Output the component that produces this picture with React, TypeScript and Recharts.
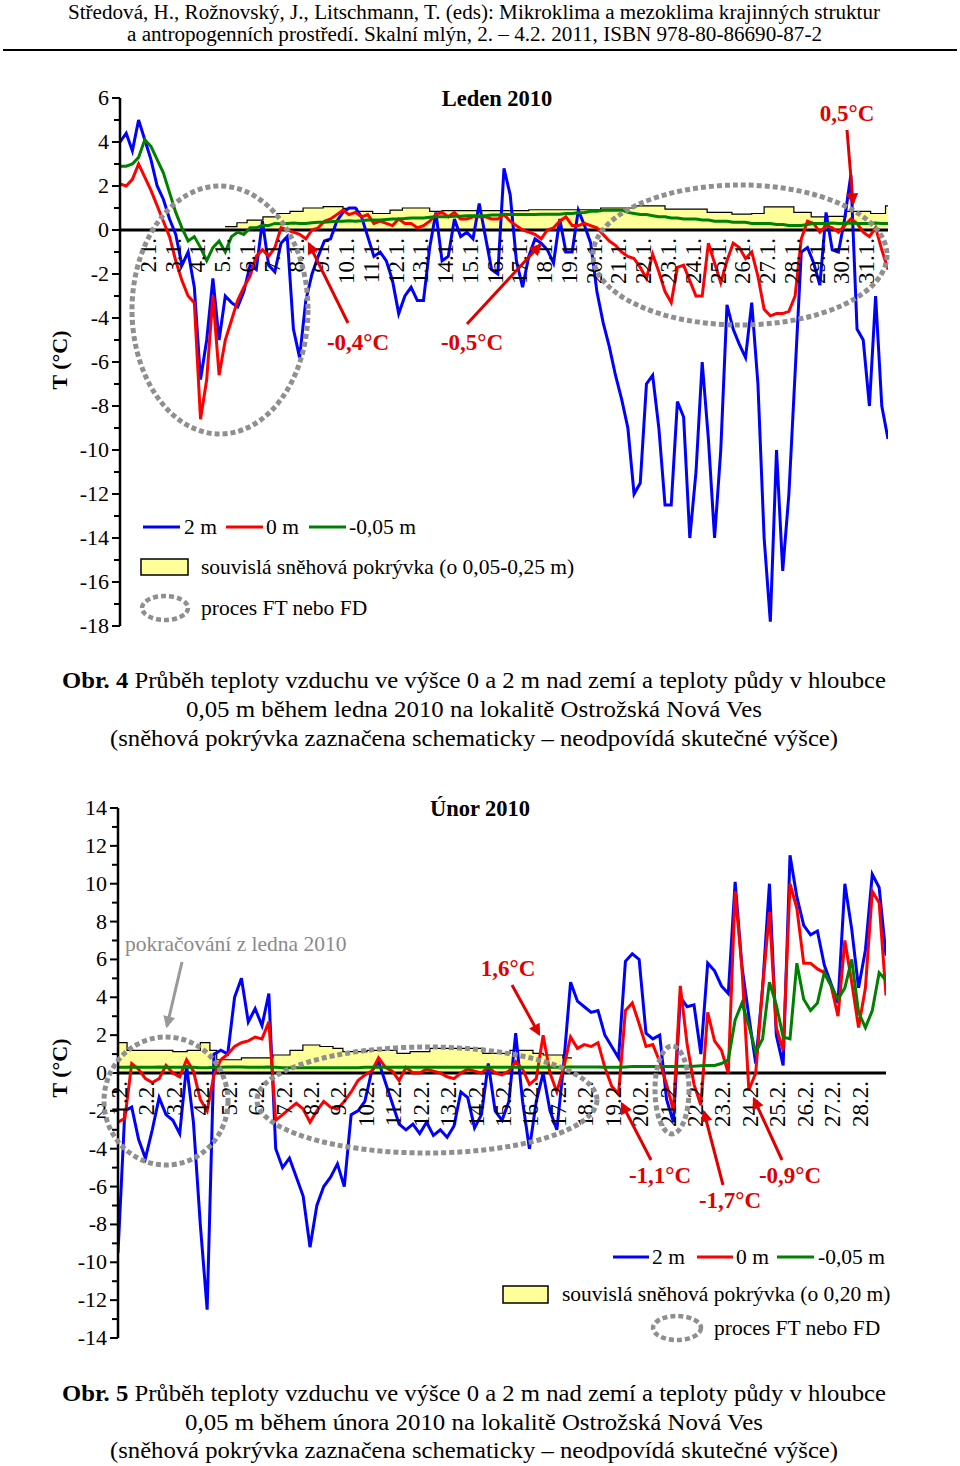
import React from "react";
import { ComposedChart, Line, Area, XAxis, YAxis, ReferenceLine } from "recharts";

const SERIF = '"Liberation Serif", "Times New Roman", serif';
const BLUE = "#0000ff";
const RED = "#ff0000";
const GREEN = "#008000";
const RED_TXT = "#e00000";
const GREY = "#8f8f8f";

// leden 2010 – hodnoty po 6 h od 1.1. 0:00 (°C)
const janBlue = [
  4.0, 4.4, 3.6, 5.0, 4.1, 3.2, 2.0, 1.4, 0.5, -0.2, -1.6, -1.0, -2.6, -6.8, -5.0, -2.2,
  -5.0, -3.0, -3.3, -3.5, -2.8, -1.6, -1.8, 0.4, -1.6, -1.9, -0.6, -0.3, -4.5, -5.8, -3.2, -2.0,
  -1.2, -0.5, -0.4, 0.4, 0.8, 1.0, 1.0, 0.6, -0.3, -1.2, -1.0, -1.4, -2.3, -3.8, -3.0, -2.6,
  -3.2, -3.2, -0.8, 0.8, -1.4, -1.2, 0.5, -0.3, -0.1, -0.4, 1.2, -0.3, -1.8, -2.0, 2.8, 1.6,
  -1.4, -2.6, -1.2, -0.4, -0.6, -0.9, -1.5, 0.5, -1.0, -1.0, 0.9, 0.2, -0.6, -2.8, -4.2, -5.3,
  -6.6, -7.7, -9.0, -12.0, -11.5, -7.0, -6.6, -9.0, -12.5, -12.5, -7.8, -8.5, -14.0, -11.0, -6.0, -9.5,
  -14.0, -10.0, -3.4, -4.5, -5.2, -5.8, -3.3, -7.0, -14.0, -17.8, -10.0, -15.5, -12.0, -6.5, -1.0, -0.8,
  -1.5, -2.5, 0.8, -0.9, -1.0, 0.5, 2.5, -4.5, -5.0, -8.0, -3.0, -8.0, -9.5,
];
const janRed = [
  2.1, 2.0, 2.3, 3.0, 2.4, 1.8, 1.1, 0.4, -0.3, -1.4, -2.3, -3.0, -3.3, -8.6, -6.8, -3.0,
  -6.6, -5.0, -4.1, -3.2, -2.6, -2.1, -1.2, -0.9, -1.2, -0.8, 0.1, 0.0, -0.1, -0.2, -0.4, 0.0,
  0.1, 0.4, 0.5, 0.7, 0.9, 0.7, 0.8, 0.6, 0.7, 0.3, 0.4, 0.3, 0.2, 0.5, 0.3, 0.3,
  0.1, 0.2, 0.4, 0.7, 0.8, 0.6, 0.8, 0.5, 0.5, 0.6, 0.6, 0.6, 0.5, 0.5, 0.7, 0.4,
  0.2, 0.0, -0.1, -0.2, -0.4, 0.0, 0.1, 0.4, 0.6, 0.2, 0.2, 0.3, 0.2, 0.1, -0.2, -0.5,
  -0.7, -1.0, -1.2, -1.3, -1.7, -2.2, -1.1, -1.9, -2.8, -3.3, -1.7, -1.6, -2.3, -3.0, -3.0, -0.6,
  -1.5, -2.4, -1.4, -0.6, -0.8, -1.3, -1.0, -2.1, -3.6, -3.9, -3.8, -3.8, -3.7, -3.0, -0.4, 0.4,
  0.3, -0.1, 0.2, 0.1, -0.1, 0.2, 0.5, 0.3, -0.1, -0.3, 0.1, -0.9, -1.8,
];
const janGreen = [
  2.9, 2.9, 3.0, 3.3, 4.1, 3.8, 3.2, 2.6, 1.7, 0.8, 0.1, -0.5, -0.3, -0.8, -1.4, -0.8,
  -0.5, -1.0, -0.3, -0.1, -0.2, 0.1, 0.1, 0.2, 0.2, 0.3, 0.28, 0.3, 0.32, 0.3, 0.3, 0.33,
  0.35, 0.35, 0.38, 0.4, 0.4, 0.42, 0.4, 0.42, 0.45, 0.45, 0.45, 0.48, 0.5, 0.5, 0.52, 0.55,
  0.55, 0.55, 0.58, 0.6, 0.6, 0.6, 0.62, 0.62, 0.65, 0.65, 0.65, 0.65, 0.68, 0.68, 0.7, 0.7,
  0.7, 0.7, 0.7, 0.7, 0.72, 0.72, 0.72, 0.72, 0.75, 0.75, 0.78, 0.8, 0.85, 0.85, 0.9, 0.9,
  0.9, 0.9, 0.8, 0.75, 0.7, 0.7, 0.65, 0.6, 0.6, 0.55, 0.55, 0.5, 0.5, 0.5, 0.45, 0.45,
  0.4, 0.4, 0.4, 0.35, 0.35, 0.35, 0.3, 0.3, 0.3, 0.3, 0.25, 0.25, 0.2, 0.2, 0.2, 0.25,
  0.3, 0.3, 0.3, 0.32, 0.3, 0.3, 0.32, 0.3, 0.3, 0.3, 0.32, 0.3, 0.3,
];
// sněhová pokrývka (schematicky, den -> výška v jednotkách osy)
const janSnowT = [
  5.24, 5.72, 6.13, 6.77, 7.34, 7.86, 8.39, 9.2, 10.0, 10.57, 11.2, 11.9, 12.4, 13.5, 14.0,
  17.5, 20.4, 21.7, 23.0, 24.7, 25.7, 26.5, 27.0, 28.2, 28.9, 29.6, 30.3, 31.3, 31.9, 32.0,
];
const janSnow = [
  0.15, 0.33, 0.45, 0.6, 0.75, 0.85, 1.0, 1.06, 0.98, 0.85, 0.75, 0.9, 1.0, 0.85, 0.88,
  0.92, 1.0, 1.1, 0.95, 0.8, 0.72, 0.75, 1.05, 0.8, 0.6, 0.62, 0.85, 0.75, 1.1, 1.1,
];

// únor 2010 – hodnoty po 6 h od 1.2. 0:00 (°C)
const febBlue = [
  -9.5, -2.0, -1.8, -3.5, -4.5, -3.0, -1.3, -2.2, -2.5, -3.2, 0.4, -2.6, -8.0, -12.5, 1.0, 1.2,
  1.0, 4.0, 5.0, 2.7, 3.4, 2.5, 4.2, -4.0, -5.0, -4.5, -5.5, -6.5, -9.2, -7.0, -6.0, -5.5,
  -4.8, -6.0, -2.2, -2.0, -1.5, 0.1, 0.6, -0.5, -1.6, -2.7, -3.0, -2.7, -3.2, -2.6, -3.3, -3.0,
  -3.4, -2.8, -1.0, -1.3, -2.9, -2.2, 0.5, -2.0, -2.5, -1.5, 2.1, -1.5, -4.0, -1.5, 0.0, -2.0,
  -3.0, 0.5, 4.8, 3.8, 3.5, 3.2, 3.3, 2.0, 1.4, 0.8, 5.9, 6.3, 6.0, 2.1, 1.8, 2.0,
  -1.4, -2.6, 4.0, 3.5, 3.6, 1.0, 5.8, 5.4, 4.6, 4.2, 10.1, 5.6, 3.0, 0.5, 4.5, 10.0,
  2.0, 0.4, 11.5, 9.3, 7.8, 7.3, 7.5, 5.7, 4.7, 3.7, 10.0, 7.6, 4.5, 6.5, 10.5, 9.8,
  6.2,
];
const febRed = [
  -2.6, -2.4, 0.5, 0.2, -0.3, -0.5, -0.3, 0.4, 0.0, -0.2, 0.7, 0.1, -1.4, -2.0, -0.1, 0.7,
  1.0, 1.4, 1.6, 1.7, 1.9, 1.8, 2.7, -2.5, -2.2, -1.9, -1.6, -1.9, -2.6, -2.0, -1.5, -1.8,
  -1.9, -1.5, -1.0, -0.4, -0.1, 0.1, 0.8, 0.3, 0.1, -0.4, 0.3, 0.0, 0.0, 0.2, 0.1, 0.0,
  -0.2, -0.3, 0.0, 0.2, 0.1, 0.0, 0.3, 0.0, -0.1, 0.1, 0.6, 0.2, -0.6, -0.3, 2.0, 0.0,
  -1.0, 0.3, 1.9, 1.3, 1.5, 1.4, 1.6, 0.3, -0.7, -1.1, 3.3, 3.7, 2.6, 1.4, 1.5, 0.6,
  -0.6, -2.0, 4.6, 1.5, -0.6, -1.7, 3.2, 1.7, 1.2, 0.0, 9.6, 5.5, -0.9, 0.0, 4.5, 8.5,
  2.4, 1.2, 10.0, 8.7, 5.8, 5.8, 5.5, 5.3, 4.6, 3.0, 7.0, 4.8, 2.4, 4.5, 9.6, 9.0,
  4.1,
];
const febGreen = [
  0.3, 0.3, 0.32, 0.3, 0.3, 0.3, 0.32, 0.3, 0.3, 0.3, 0.3, 0.3, 0.28, 0.28, 0.3, 0.3,
  0.32, 0.32, 0.32, 0.3, 0.3, 0.3, 0.32, 0.3, 0.28, 0.28, 0.28, 0.28, 0.28, 0.28, 0.28, 0.28,
  0.28, 0.28, 0.28, 0.28, 0.3, 0.3, 0.32, 0.3, 0.3, 0.3, 0.3, 0.3, 0.3, 0.3, 0.3, 0.3,
  0.3, 0.3, 0.3, 0.3, 0.3, 0.3, 0.3, 0.3, 0.3, 0.3, 0.3, 0.3, 0.3, 0.3, 0.32, 0.3,
  0.3, 0.3, 0.32, 0.32, 0.32, 0.32, 0.32, 0.3, 0.3, 0.3, 0.32, 0.34, 0.34, 0.34, 0.34, 0.34,
  0.34, 0.34, 0.36, 0.36, 0.36, 0.38, 0.4, 0.4, 0.5, 0.7, 2.8, 3.7, 2.5, 1.1, 1.8, 4.8,
  3.6, 1.9, 1.8, 5.8, 3.9, 3.3, 3.7, 5.3, 4.6, 3.9, 4.5, 6.0, 3.2, 2.4, 3.3, 5.3,
  4.9,
];
const febSnowT = [
  1, 1.33, 3.0, 3.52, 4.0, 4.35, 4.6, 5.5, 6.65, 7.27, 7.74, 8.36, 8.84, 9.2, 10.08, 11.17,
  11.65, 12.37, 14.3, 15.29, 16.13, 16.5, 17.22, 17.55,
];
const febSnow = [
  1.6, 1.2, 1.13, 1.2, 1.6, 1.2, 0.7, 0.8, 0.95, 1.2, 1.48, 1.4, 1.3, 1.13, 1.2, 1.04,
  1.13, 1.3, 1.04, 1.2, 1.04, 0.95, 0.8, 0.8,
];

const janTickDays = Array.from({ length: 30 }, (_, i) => i + 2);
const febTickDays = Array.from({ length: 28 }, (_, i) => i + 1);
const janYTicks = Array.from({ length: 25 }, (_, i) => -18 + i);
const febYTicks = Array.from({ length: 29 }, (_, i) => -14 + i);

const janRows = janBlue.map((b, i) => ({ t: 1 + i / 4, blue: b, red: janRed[i], green: janGreen[i] }));
const febRows = febBlue.map((b, i) => ({ t: 1 + i / 4, blue: b, red: febRed[i], green: febGreen[i] }));
const janSnowRows = janSnowT.map((t, i) => ({ t, snow: janSnow[i] }));
const febSnowRows = febSnowT.map((t, i) => ({ t, snow: febSnow[i] }));

function YTick(props: any) {
  const { x, y, payload } = props;
  const v = payload.value;
  const major = v % 2 === 0;
  return (
    <g>
      <line x1={x - (major ? 8 : 6)} x2={x} y1={y} y2={y} stroke="#000" strokeWidth={2} />
      {major && (
        <text x={x - 11} y={y + 7} textAnchor="end" fontSize={22} fontFamily={SERIF} fill="#000">
          {v}
        </text>
      )}
    </g>
  );
}

type ChartProps = {
  top: number;
  rows: any[];
  snow: any[];
  xDomain: [number, number];
  yDomain: [number, number];
  xTicks: number[];
  yTicks: number[];
  month: string;
  axisX: number;
  right: number;
  marginBottom: number;
  labelDx: number;
};

const X_AXIS_H = 30;

function MonthChart(p: ChartProps) {
  const height = 660;
  const marginTop = 98;
  const plotH = height - marginTop - p.marginBottom;
  const zeroY = marginTop + (p.yDomain[1] / (p.yDomain[1] - p.yDomain[0])) * plotH;

  const renderXTick = (props: any) => {
    const ax = props.x + p.labelDx;
    const ay = zeroY + 8;
    return (
      <text
        key={`xt-${props.payload.value}`}
        x={ax}
        y={ay}
        transform={`rotate(-90, ${ax}, ${ay})`}
        textAnchor="end"
        fontSize={23}
        fontFamily={SERIF}
        fill="#000"
      >
        {`${props.payload.value}.${p.month}.`}
      </text>
    );
  };

  return (
    <div style={{ position: "absolute", left: 0, top: p.top }}>
      <ComposedChart
        width={960}
        height={height}
        data={p.rows}
        margin={{ top: marginTop, right: p.right, bottom: p.marginBottom - X_AXIS_H, left: 0 }}
      >
        <XAxis
          type="number"
          dataKey="t"
          domain={p.xDomain}
          ticks={p.xTicks}
          interval={0}
          height={X_AXIS_H}
          axisLine={false}
          tickLine={false}
          tick={renderXTick}
          allowDataOverflow
        />
        <YAxis
          type="number"
          domain={p.yDomain}
          ticks={p.yTicks}
          interval={0}
          width={p.axisX}
          tickLine={false}
          tickSize={0}
          tickMargin={0}
          axisLine={{ stroke: "#000", strokeWidth: 2.5 }}
          tick={(tp: any) => <YTick key={`yt-${tp.payload.value}`} {...tp} />}
          allowDataOverflow
        />
        <Area
          data={p.snow}
          dataKey="snow"
          type="stepAfter"
          baseValue={0}
          stroke="#000"
          strokeWidth={1.2}
          fill="#ffff99"
          fillOpacity={1}
          isAnimationActive={false}
        />
        <ReferenceLine y={0} stroke="#000" strokeWidth={3} />
        <Line dataKey="blue" type="linear" stroke={BLUE} strokeWidth={3} dot={false} isAnimationActive={false} />
        <Line dataKey="red" type="linear" stroke={RED} strokeWidth={3} dot={false} isAnimationActive={false} />
        <Line dataKey="green" type="linear" stroke={GREEN} strokeWidth={3} dot={false} isAnimationActive={false} />
      </ComposedChart>
    </div>
  );
}

const ell = { fill: "none", stroke: GREY, strokeWidth: 5, strokeDasharray: "5 3" };
const txt = { fontFamily: SERIF, fontSize: 21.5, fill: "#000" };
const red = { fontFamily: SERIF, fontSize: 23, fontWeight: 700, fill: RED_TXT, textAnchor: "middle" as const };
const arrow = { stroke: RED_TXT, strokeWidth: 3, markerEnd: "url(#ahRed)" };
const cap = { textAnchor: "middle" as const, fontFamily: SERIF, fontSize: 23.5, lengthAdjust: "spacingAndGlyphs" };

function Overlay() {
  return (
    <svg width={960} height={1466} style={{ position: "absolute", left: 0, top: 0, pointerEvents: "none" }}>
      <defs>
        <marker id="ahRed" viewBox="0 0 10 10" refX="8" refY="5" markerWidth="4.5" markerHeight="4" orient="auto">
          <path d="M0,0 L10,5 L0,10 z" fill={RED_TXT} />
        </marker>
        <marker id="ahGrey" viewBox="0 0 10 10" refX="8" refY="5" markerWidth="4.5" markerHeight="4" orient="auto">
          <path d="M0,0 L10,5 L0,10 z" fill="#999" />
        </marker>
      </defs>

      {/* hlavička */}
      <text x={68} y={19} fontFamily={SERIF} fontSize={20} textLength={812} lengthAdjust="spacingAndGlyphs">
        Středová, H., Rožnovský, J., Litschmann, T. (eds): Mikroklima a mezoklima krajinných struktur
      </text>
      <text x={127} y={41} fontFamily={SERIF} fontSize={20} textLength={695} lengthAdjust="spacingAndGlyphs">
        a antropogenních prostředí. Skalní mlýn, 2. – 4.2. 2011, ISBN 978-80-86690-87-2
      </text>
      <line x1={3} x2={957} y1={50} y2={50} stroke="#000" strokeWidth={2} />

      {/* leden */}
      <text x={497} y={106} textAnchor="middle" fontFamily={SERIF} fontSize={22.5} fontWeight={700}>Leden 2010</text>
      <text x={67} y={360} transform="rotate(-90, 67, 360)" textAnchor="middle" fontFamily={SERIF} fontSize={22} fontWeight={700}>
        T (°C)
      </text>
      <ellipse cx={220} cy={310} rx={88} ry={124} {...ell} />
      <ellipse cx={740} cy={255} rx={147} ry={70} {...ell} />
      <line x1={348} y1={323} x2={309} y2={244} {...arrow} />
      <line x1={467} y1={324} x2={540} y2={245} {...arrow} />
      <line x1={847} y1={130} x2={853} y2={203} {...arrow} />
      <text x={358} y={350} {...red}>-0,4°C</text>
      <text x={472} y={350} {...red}>-0,5°C</text>
      <text x={847} y={121} {...red}>0,5°C</text>

      <line x1={143} x2={180} y1={527} y2={527} stroke={BLUE} strokeWidth={3} />
      <text x={184} y={534} {...txt}>2 m</text>
      <line x1={226} x2={263} y1={527} y2={527} stroke={RED} strokeWidth={3} />
      <text x={266} y={534} {...txt}>0 m</text>
      <line x1={309} x2={346} y1={527} y2={527} stroke={GREEN} strokeWidth={3} />
      <text x={349} y={534} {...txt}>-0,05 m</text>
      <rect x={141} y={559} width={47} height={16} fill="#ffff99" stroke="#000" strokeWidth={1.5} />
      <text x={201} y={574} {...txt}>souvislá sněhová pokrývka (o 0,05-0,25 m)</text>
      <ellipse cx={165} cy={608} rx={23} ry={12} {...ell} strokeWidth={4.5} />
      <text x={201} y={615} {...txt}>proces FT nebo FD</text>

      <text x={474} y={688} {...cap} textLength={824}>
        <tspan fontWeight={700}>Obr. 4</tspan> Průběh teploty vzduchu ve výšce 0 a 2 m nad zemí a teploty půdy v hloubce
      </text>
      <text x={474} y={717} {...cap} textLength={576}>
        0,05 m během ledna 2010 na lokalitě Ostrožská Nová Ves
      </text>
      <text x={474} y={746} {...cap} textLength={728}>
        (sněhová pokrývka zaznačena schematicky – neodpovídá skutečné výšce)
      </text>

      {/* únor */}
      <text x={480} y={816} textAnchor="middle" fontFamily={SERIF} fontSize={22.5} fontWeight={700}>Únor 2010</text>
      <text x={67} y={1068} transform="rotate(-90, 67, 1068)" textAnchor="middle" fontFamily={SERIF} fontSize={22} fontWeight={700}>
        T (°C)
      </text>
      <text x={125} y={951} fontFamily={SERIF} fontSize={21.5} fill="#8a8a8a">pokračování z ledna 2010</text>
      <line x1={182} y1={962} x2={167} y2={1026} stroke="#999" strokeWidth={3} markerEnd="url(#ahGrey)" />
      <ellipse cx={166} cy={1101} rx={62} ry={64} {...ell} />
      <ellipse cx={427} cy={1100} rx={170} ry={53} {...ell} />
      <ellipse cx={672} cy={1090} rx={17} ry={44} {...ell} />
      <line x1={512} y1={985} x2={539} y2={1034} {...arrow} />
      <line x1={651} y1={1160} x2={622} y2={1104} {...arrow} />
      <line x1={723} y1={1185} x2={704} y2={1112} {...arrow} />
      <line x1={782} y1={1160} x2={754} y2={1099} {...arrow} />
      <text x={508} y={976} {...red}>1,6°C</text>
      <text x={660} y={1183} {...red}>-1,1°C</text>
      <text x={730} y={1208} {...red}>-1,7°C</text>
      <text x={790} y={1183} {...red}>-0,9°C</text>

      <line x1={613} x2={649} y1={1257} y2={1257} stroke={BLUE} strokeWidth={3} />
      <text x={652} y={1264} {...txt}>2 m</text>
      <line x1={697} x2={733} y1={1257} y2={1257} stroke={RED} strokeWidth={3} />
      <text x={736} y={1264} {...txt}>0 m</text>
      <line x1={777} x2={814} y1={1257} y2={1257} stroke={GREEN} strokeWidth={3} />
      <text x={818} y={1264} {...txt}>-0,05 m</text>
      <rect x={503} y={1286} width={45} height={17} fill="#ffff99" stroke="#000" strokeWidth={1.5} />
      <text x={562} y={1301} {...txt}>souvislá sněhová pokrývka (o 0,20 m)</text>
      <ellipse cx={677} cy={1328} rx={24} ry={12} {...ell} strokeWidth={4.5} />
      <text x={714} y={1335} {...txt}>proces FT nebo FD</text>

      <text x={474} y={1401} {...cap} textLength={824}>
        <tspan fontWeight={700}>Obr. 5</tspan> Průběh teploty vzduchu ve výšce 0 a 2 m nad zemí a teploty půdy v hloubce
      </text>
      <text x={474} y={1430} {...cap} textLength={578}>
        0,05 m během února 2010 na lokalitě Ostrožská Nová Ves
      </text>
      <text x={474} y={1458} {...cap} textLength={728}>
        (sněhová pokrývka zaznačena schematicky – neodpovídá skutečné výšce)
      </text>
    </svg>
  );
}

export default function App() {
  return (
    <div style={{ position: "absolute", left: 0, top: 0, width: 960, height: 1466, background: "#fff", overflow: "hidden" }}>
      <MonthChart
        top={0}
        rows={janRows}
        snow={janSnowRows}
        xDomain={[1, 32]}
        yDomain={[-18, 6]}
        xTicks={janTickDays}
        yTicks={janYTicks}
        month="1"
        axisX={120}
        right={72}
        marginBottom={34}
        labelDx={11}
      />
      <MonthChart
        top={710}
        rows={febRows}
        snow={febSnowRows}
        xDomain={[1, 29]}
        yDomain={[-14, 14]}
        xTicks={febTickDays}
        yTicks={febYTicks}
        month="2"
        axisX={118}
        right={74}
        marginBottom={32}
        labelDx={9}
      />
      <Overlay />
    </div>
  );
}
